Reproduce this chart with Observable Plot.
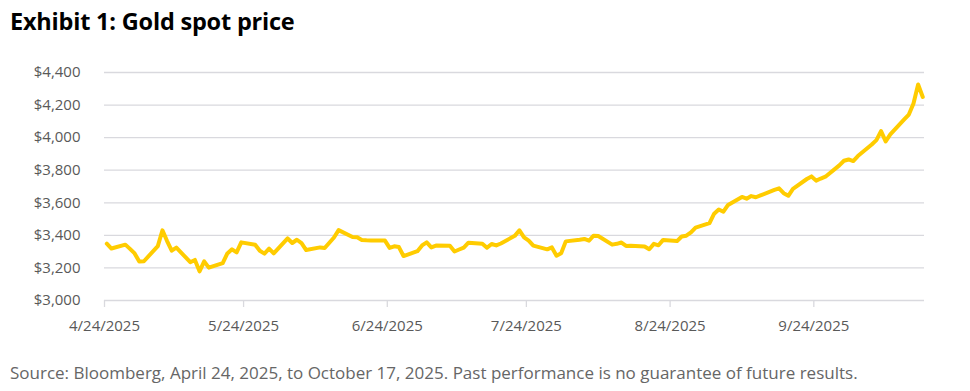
<!DOCTYPE html>
<html>
<head>
<meta charset="utf-8">
<script src="https://cdn.jsdelivr.net/npm/d3@7"></script>
<script src="https://cdn.jsdelivr.net/npm/@observablehq/plot@0.6"></script>
<style>
  html, body { margin: 0; padding: 0; background: #fff; width: 970px; height: 391px; overflow: hidden; }
  #title { position: absolute; left: 10px; top: 6px; font: bold 23.5px/30px "Open Sans", sans-serif; color: #000; letter-spacing: -0.2px; white-space: nowrap; }
  #chart { position: absolute; left: 0; top: 50px; }
  #caption { position: absolute; left: 10px; top: 362px; font: 17px/22px "Open Sans", sans-serif; color: #666; white-space: nowrap; }
</style>
</head>
<body>
<div id="title">Exhibit 1: Gold spot price</div>
<div id="chart"></div>
<div id="caption">Source: Bloomberg, April 24, 2025, to October 17, 2025. Past performance is no guarantee of future results.</div>
<script>
const dates = [
  "2025-04-24","2025-04-25",
  "2025-04-28","2025-04-29","2025-04-30","2025-05-01","2025-05-02",
  "2025-05-05","2025-05-06","2025-05-07","2025-05-08","2025-05-09",
  "2025-05-12","2025-05-13","2025-05-14","2025-05-15","2025-05-16",
  "2025-05-19","2025-05-20","2025-05-21","2025-05-22","2025-05-23",
  "2025-05-26","2025-05-27","2025-05-28","2025-05-29","2025-05-30",
  "2025-06-02","2025-06-03","2025-06-04","2025-06-05","2025-06-06",
  "2025-06-09","2025-06-10","2025-06-11","2025-06-12","2025-06-13",
  "2025-06-16","2025-06-17","2025-06-18","2025-06-19","2025-06-20",
  "2025-06-23","2025-06-24","2025-06-25","2025-06-26","2025-06-27",
  "2025-06-30","2025-07-01","2025-07-02","2025-07-03","2025-07-04",
  "2025-07-07","2025-07-08","2025-07-09","2025-07-10","2025-07-11",
  "2025-07-14","2025-07-15","2025-07-16","2025-07-17","2025-07-18",
  "2025-07-21","2025-07-22","2025-07-23","2025-07-24","2025-07-25",
  "2025-07-28","2025-07-29","2025-07-30","2025-07-31","2025-08-01",
  "2025-08-04","2025-08-05","2025-08-06","2025-08-07","2025-08-08",
  "2025-08-11","2025-08-12","2025-08-13","2025-08-14","2025-08-15",
  "2025-08-18","2025-08-19","2025-08-20","2025-08-21","2025-08-22",
  "2025-08-25","2025-08-26","2025-08-27","2025-08-28","2025-08-29",
  "2025-09-01","2025-09-02","2025-09-03","2025-09-04","2025-09-05",
  "2025-09-08","2025-09-09","2025-09-10","2025-09-11","2025-09-12",
  "2025-09-15","2025-09-16","2025-09-17","2025-09-18","2025-09-19",
  "2025-09-22","2025-09-23","2025-09-24","2025-09-25","2025-09-26",
  "2025-09-29","2025-09-30","2025-10-01","2025-10-02","2025-10-03",
  "2025-10-06","2025-10-07","2025-10-08","2025-10-09","2025-10-10",
  "2025-10-13","2025-10-14","2025-10-15","2025-10-16","2025-10-17"
];
const prices = [
  3349, 3319,
  3343, 3317, 3289, 3239, 3241,
  3334, 3431, 3365, 3306, 3325,
  3235, 3249, 3179, 3240, 3202,
  3230, 3289, 3314, 3295, 3357,
  3342, 3305, 3288, 3318, 3289,
  3381, 3353, 3373, 3352, 3310,
  3326, 3322, 3355, 3387, 3432,
  3390, 3388, 3372, 3370, 3369,
  3368, 3323, 3333, 3328, 3273,
  3303, 3338, 3357, 3326, 3337,
  3336, 3301, 3313, 3325, 3355,
  3348, 3324, 3347, 3338, 3350,
  3397, 3431, 3388, 3368, 3337,
  3314, 3326, 3275, 3290, 3363,
  3373, 3378, 3367, 3398, 3396,
  3343, 3348, 3356, 3335, 3336,
  3332, 3315, 3348, 3339, 3372,
  3365, 3393, 3398, 3418, 3448,
  3475, 3533, 3559, 3545, 3587,
  3636, 3625, 3641, 3634, 3645,
  3679, 3689, 3659, 3643, 3686,
  3746, 3762, 3736, 3749, 3760,
  3830, 3858, 3866, 3856, 3887,
  3958, 3985, 4040, 3977, 4020,
  4112, 4142, 4210, 4326, 4250
];
const yTicks = [3000, 3200, 3400, 3600, 3800, 4000, 4200, 4400];
const xTickLabels = ["2025-04-24","2025-05-24","2025-06-24","2025-07-24","2025-08-24","2025-09-24"];

const HALF_DAY = 12 * 3600 * 1000;
const data = dates.map((d, i) => ({date: new Date(+new Date(d + "T00:00:00Z") + HALF_DAY), price: prices[i]}));
const xTicks = xTickLabels.map(d => new Date(d + "T00:00:00Z"));

const chart = Plot.plot({
  width: 970,
  height: 300,
  marginLeft: 104,
  marginRight: 46,
  marginTop: 22,
  marginBottom: 50,
  style: {fontFamily: "'Open Sans', sans-serif", fontSize: "15px", color: "#595959", background: "#fff"},
  x: {type: "utc", domain: [new Date("2025-04-24T00:00:00Z"), new Date("2025-10-17T21:00:00Z")]},
  y: {domain: [3000, 4400]},
  marks: [
    Plot.ruleY(yTicks, {stroke: "#d9d9de", strokeWidth: 1.3}),
    Plot.axisY({ticks: yTicks, tickSize: 0, tickPadding: 24, tickFormat: d => "$" + d3.format(",")(d), label: null, fill: "#595959"}),
    Plot.axisX({ticks: xTicks, tickSize: 7, tickPadding: 13, tickFormat: d3.utcFormat("%-m/%-d/%Y"), label: null, stroke: "#d9d9de", strokeWidth: 1.3, fill: "#595959"}),
    Plot.line(data, {x: "date", y: "price", stroke: "#FFCC00", strokeWidth: 4, strokeLinejoin: "round", strokeLinecap: "round"})
  ]
});
document.getElementById("chart").appendChild(chart);
</script>
</body>
</html>
